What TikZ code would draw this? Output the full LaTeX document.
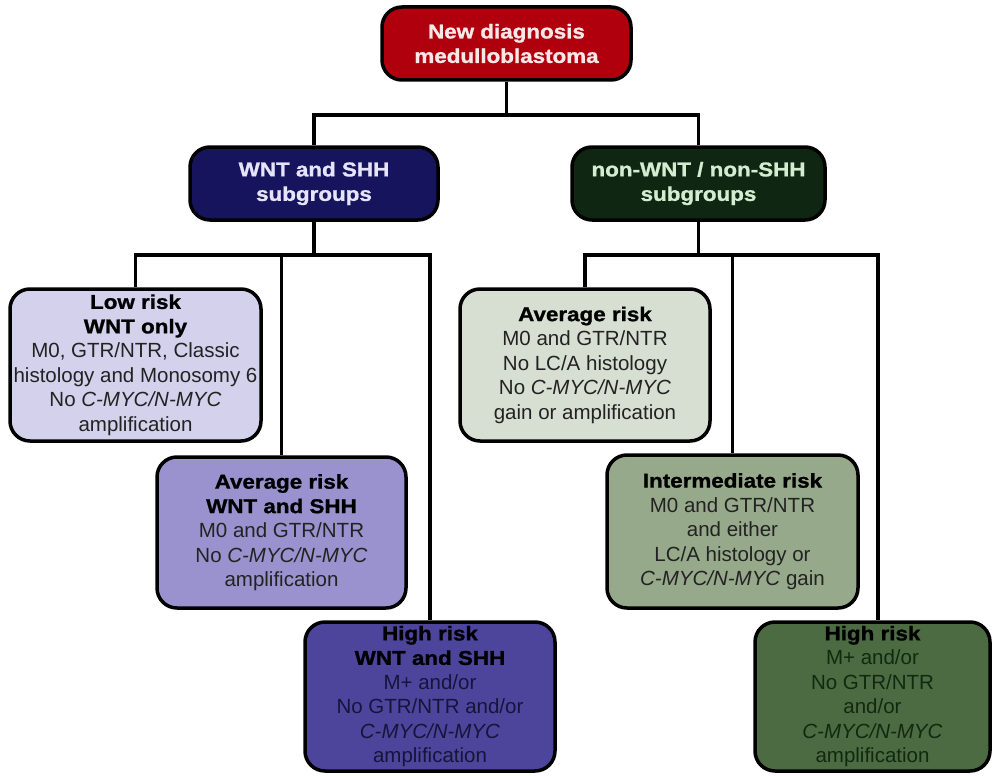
\documentclass[tikz,border=0pt]{standalone}
\usepackage{fontspec}
\setmainfont{Liberation Sans}
\newfontfamily\tfont[FakeStretch=1.12,FakeBold=1.2]{Liberation Sans}
\definecolor{cRed}{HTML}{B0000E}
\definecolor{cRedT}{HTML}{F8E8E8}
\definecolor{cNavy}{HTML}{16145C}
\definecolor{cNavyT}{HTML}{E6E4F8}
\definecolor{cDkGreen}{HTML}{0E2612}
\definecolor{cDkGreenT}{HTML}{D4ECD0}
\definecolor{cLow}{HTML}{D4D1EC}
\definecolor{cAvgW}{HTML}{9A92CE}
\definecolor{cHighW}{HTML}{4D459C}
\definecolor{cHighWT}{HTML}{15153A}
\definecolor{cAvgR}{HTML}{D6DFD1}
\definecolor{cInter}{HTML}{97A98B}
\definecolor{cHighR}{HTML}{4D6B43}
\definecolor{cHighRT}{HTML}{0F2A0E}
\definecolor{cBody}{HTML}{222222}
\newcommand{\ttl}[1]{{\tfont\bfseries\fontsize{20}{25}\selectfont #1}}
\tikzset{
  box/.style={draw=black, line width=3.5pt, rounded corners=20pt, align=center,
    inner sep=0pt, anchor=center, font=\fontsize{20.5}{24.5}\selectfont},
  conn/.style={line width=3.5pt, draw=black}
}
\begin{document}
\begin{tikzpicture}[x=1pt,y=-1pt]
\useasboundingbox (0,0) rectangle (994,776);
\fill[white] (0,0) rectangle (994,776);
% level 0
\node[box, fill=cRed, text=cRedT, minimum width=249pt, minimum height=73pt] (top) at (506.5,43.5)
  {\ttl{New diagnosis}\\\ttl{medulloblastoma}};
% level 1
\node[box, fill=cNavy, text=cNavyT, minimum width=248pt, minimum height=73pt] (wnt) at (314,183.5)
  {\ttl{WNT and SHH}\\\ttl{subgroups}};
\node[box, fill=cDkGreen, text=cDkGreenT, minimum width=253pt, minimum height=73pt] (non) at (698.5,183.5)
  {\ttl{non-WNT / non-SHH}\\\ttl{subgroups}};
% level 2 left
\node[box, fill=cLow, text=cBody, minimum width=251pt, minimum height=152pt] (low) at (135.5,365)
  {\textcolor{black}{\ttl{Low risk}}\\\textcolor{black}{\ttl{WNT only}}\\M0, GTR/NTR, Classic\\histology and Monosomy 6\\No \textit{C-MYC/N-MYC}\\amplification};
\node[box, fill=cAvgW, text=cBody, minimum width=249pt, minimum height=151pt] (avgw) at (281.5,532.5)
  {\textcolor{black}{\ttl{Average risk}}\\\textcolor{black}{\ttl{WNT and SHH}}\\M0 and GTR/NTR\\No \textit{C-MYC/N-MYC}\\amplification};
\node[box, fill=cHighW, text=cHighWT, minimum width=250pt, minimum height=149pt] (highw) at (430,696.5)
  {\textcolor{black}{\ttl{High risk}}\\\textcolor{black}{\ttl{WNT and SHH}}\\M+ and/or\\No GTR/NTR and/or\\\textit{C-MYC/N-MYC}\\amplification};
% level 2 right
\node[box, fill=cAvgR, text=cBody, minimum width=250pt, minimum height=152pt] (avgr) at (585,365)
  {\textcolor{black}{\ttl{Average risk}}\\M0 and GTR/NTR\\No LC/A histology\\No \textit{C-MYC/N-MYC}\\gain or amplification};
\node[box, fill=cInter, text=cBody, minimum width=251pt, minimum height=153pt] (inter) at (732.5,531.5)
  {\textcolor{black}{\ttl{Intermediate risk}}\\M0 and GTR/NTR\\and either\\LC/A histology or\\\textit{C-MYC/N-MYC} gain};
\node[box, fill=cHighR, text=cHighRT, minimum width=235pt, minimum height=149pt] (highr) at (872.5,696.5)
  {\textcolor{black}{\ttl{High risk}}\\M+ and/or\\No GTR/NTR\\and/or\\\textit{C-MYC/N-MYC}\\amplification};
% connectors
\draw[conn] (top.south) -- ++(0,33) -| (wnt.north);
\draw[conn] (top.south) -- ++(0,33) -| (non.north);
\draw[conn] (wnt.south) -- ++(0,33) -| (low.north);
\draw[conn] (wnt.south) -- ++(0,33) -| (avgw.north);
\draw[conn] (wnt.south) -- ++(0,33) -| (highw.north);
\draw[conn] (non.south) -- ++(0,33) -| (avgr.north);
\draw[conn] (non.south) -- ++(0,33) -| (inter.north);
\draw[conn] (non.south) -- ++(0,33) -| ([xshift=5.5pt]highr.north);
\end{tikzpicture}
\end{document}
